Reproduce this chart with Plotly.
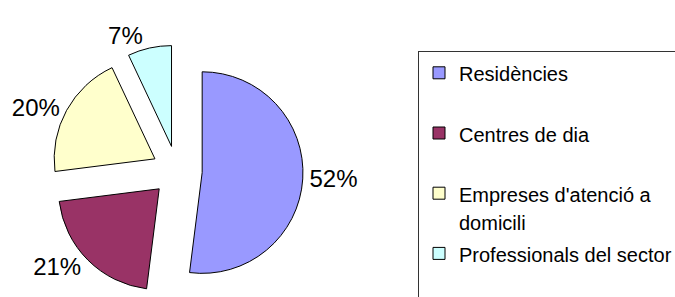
import plotly.graph_objects as go

categories = ["Residències", "Centres de dia", "Empreses d'atenció a domicili", "Professionals del sector"]
values = [52, 21, 20, 7]
colors = ["#9999FF", "#993366", "#FFFFCC", "#CCFFFF"]

PAD = "&nbsp;" * 45

def legend_label(c):
    c = c.replace("atenció a domicili", "atenció a<br>domicili")
    lines = c.split("<br>")
    txt = "<br>".join("<span style='font-size:20px'>%s</span>" % l for l in lines)
    if len(lines) < 2:
        txt += "<br>" + PAD
    return txt

fig = go.Figure(go.Pie(
    labels=[legend_label(c) for c in categories],
    values=values,
    sort=False,
    direction="clockwise",
    rotation=0,
    pull=0.25,
    marker=dict(colors=colors, line=dict(color="#000000", width=1)),
    textinfo="percent",
    texttemplate="%{percent:.0%}",
    textposition="outside",
    outsidetextfont=dict(family="Liberation Sans, Arial, sans-serif", size=24, color="#000000"),
    domain=dict(x=[0.0756, 0.4489], y=[0, 0.8485]),
    hoverinfo="label+percent",
))

fig.update_layout(
    width=675,
    height=297,
    margin=dict(l=0, r=0, t=0, b=0, autoexpand=False),
    paper_bgcolor="white",
    plot_bgcolor="white",
    font=dict(family="Liberation Sans, Arial, sans-serif", color="#000000"),
    showlegend=True,
    legend=dict(
        x=418 / 675,
        xanchor="left",
        y=1 - 51 / 297,
        yanchor="top",
        font=dict(size=22, color="#000000"),
        valign="top",
        bordercolor="#333333",
        borderwidth=1,
        bgcolor="white",
    ),
)

fig.write_html(
    "out.html",
    config={"displayModeBar": False},
    post_script="document.body.style.margin='0';",
)
